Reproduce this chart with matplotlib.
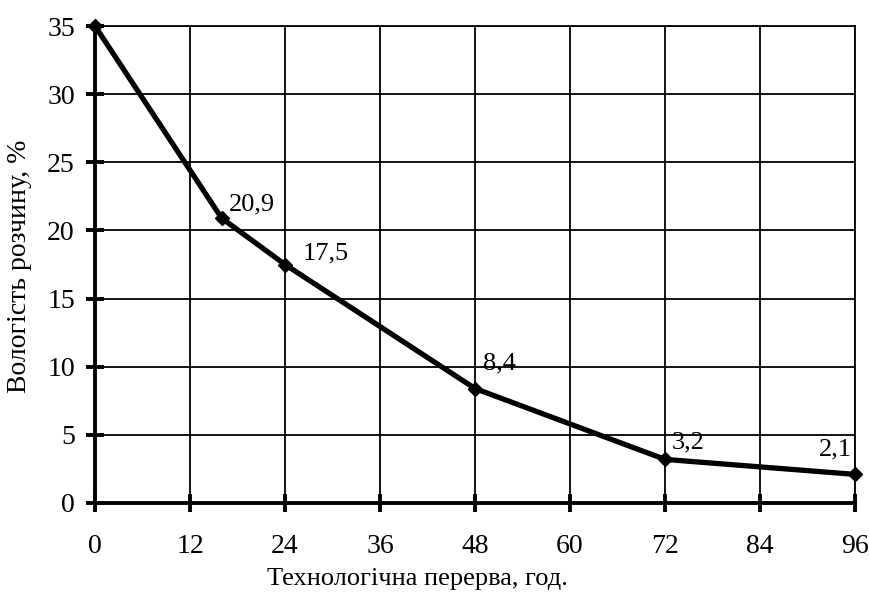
import matplotlib
matplotlib.use("Agg")
import matplotlib.pyplot as plt

hours = [0, 16, 24, 48, 72, 96]
moisture = [35, 20.9, 17.5, 8.4, 3.2, 2.1]
point_labels = ["", "20,9", "17,5", "8,4", "3,2", "2,1"]
x_ticks = [0, 12, 24, 36, 48, 60, 72, 84, 96]
y_ticks = [0, 5, 10, 15, 20, 25, 30, 35]
x_label = "Технологічна перерва, год."
y_label = "Вологість розчину, %"

plt.rcParams['font.family'] = ['Liberation Serif', 'DejaVu Serif']

fig = plt.figure(figsize=(8.7, 5.96), dpi=100)
ax = fig.add_axes([95/870, 1 - 503/596, 760/870, 477/596])

ax.plot(hours, moisture, color='black', lw=3.8, marker='D', ms=7.5, zorder=3, clip_on=False)

# label offsets in pixels (dx, dy, ha)
offsets = [None, (7, 3, 'left'), (18, 0, 'left'), (8, 14, 'left'), (7, 6, 'left'), (-3, 14, 'right')]
for x, y, lab, off in zip(hours, moisture, point_labels, offsets):
    if not lab:
        continue
    dx, dy, ha = off
    ax.annotate(lab, (x, y), xytext=(dx * 0.72, dy * 0.72), textcoords='offset points',
                ha=ha, va='bottom', fontsize=19)

ax.set_xlim(0, 96)
ax.set_ylim(0, 35)
ax.set_xticks(x_ticks)
ax.set_yticks(y_ticks)
ax.grid(True, color='black', lw=1.3)
ax.set_axisbelow(True)
for s in ['top', 'right']:
    ax.spines[s].set_linewidth(1.3)
for s in ['left', 'bottom']:
    ax.spines[s].set_linewidth(2.8)
ax.tick_params(direction='inout', length=13, width=2.8, labelsize=20)
ax.tick_params(axis='y', pad=8)
ax.tick_params(axis='x', pad=16)
ax.set_xlabel(x_label, fontsize=19)
ax.set_ylabel(y_label, fontsize=20)
ax.xaxis.set_label_coords((417 - 95) / 760, -(579 - 503) / 477, transform=ax.transAxes)
ax.yaxis.set_label_coords(-(95 - 20) / 760, (503 - 266) / 477, transform=ax.transAxes)
ax.xaxis.label.set_va('center')
ax.yaxis.label.set_va('center')

fig.savefig("out.png", dpi=100)
